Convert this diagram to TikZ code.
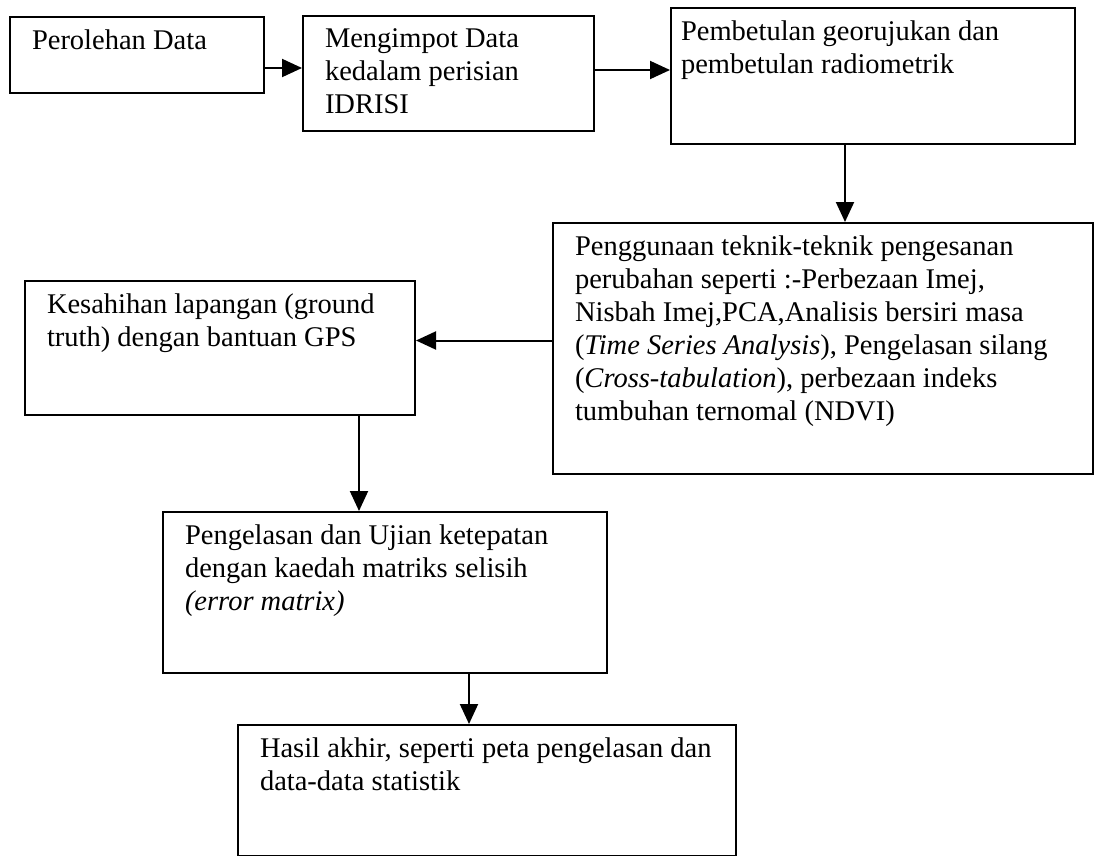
\documentclass[tikz,border=0pt]{standalone}
\usepackage{fontspec}
\setmainfont{Liberation Serif}
\usetikzlibrary{arrows.meta}
\newcommand{\boxtxt}[3]{\parbox[t][\dimexpr #2pt-26pt\relax][t]{\dimexpr #1pt-44pt\relax}{\raggedright #3}}

\begin{document}
\begin{tikzpicture}[x=1pt, y=-1pt,
    stepbox/.style={draw, line width=2pt, anchor=north west, inner xsep=22pt, inner ysep=13pt,
      font=\fontsize{28.5}{33}\selectfont},
    flow/.style={line width=2pt, -{Triangle[length=20pt, width=18pt]}}]
    \useasboundingbox (0,0) rectangle (1095,856);

    \node[stepbox] (data) at (9, 16) {\boxtxt{254}{76}{Perolehan Data}};
    \node[stepbox] (impot) at (302, 15) {\boxtxt{291}{115}{Mengimpot Data\\ kedalam perisian\\ IDRISI}};
    \node[stepbox, inner xsep=10pt] (betul) at (670, 7) {\boxtxt{428}{136}{Pembetulan georujukan dan\\ pembetulan radiometrik}};
    \node[stepbox] (teknik) at (552, 222) {\boxtxt{540}{251}{Penggunaan teknik-teknik pengesanan\\
      perubahan seperti :-Perbezaan Imej,\\ Nisbah Imej,PCA,Analisis bersiri masa\\
      (\textit{Time Series Analysis}), Pengelasan silang\\ (\textit{Cross-tabulation}), perbezaan indeks\\
      tumbuhan ternomal (NDVI)}};
    \node[stepbox] (sahih) at (24, 280) {\boxtxt{390}{134}{Kesahihan lapangan (ground\\ truth) dengan bantuan GPS}};
    \node[stepbox] (kelas) at (162, 511) {\boxtxt{444}{161}{Pengelasan dan Ujian ketepatan\\ dengan kaedah matriks selisih\\ \textit{(error matrix)}}};
    \node[stepbox] (hasil) at (237, 724) {\boxtxt{498}{131}{Hasil akhir, seperti peta pengelasan dan\\ data-data statistik}};

    % anak panah
    \draw[flow] ([yshift=-13pt]data.east) -- ([yshift=-13pt]data.east -| impot.west);
    \draw[flow] ([yshift=3.5pt]impot.east) -- ([yshift=3.5pt]impot.east -| betul.west);
    \draw[flow] ([xshift=-28pt]betul.south) -- ([xshift=-28pt]betul.south |- teknik.north);
    \draw[flow] ([yshift=8pt]teknik.west) -- ([yshift=8pt]teknik.west -| sahih.east);
    \draw[flow] ([xshift=-57pt]sahih.south east) -- ([xshift=-57pt]sahih.south east |- kelas.north);
    \draw[flow] ([xshift=84pt]kelas.south) -- ([xshift=84pt]kelas.south |- hasil.north);
\end{tikzpicture}
\end{document}
